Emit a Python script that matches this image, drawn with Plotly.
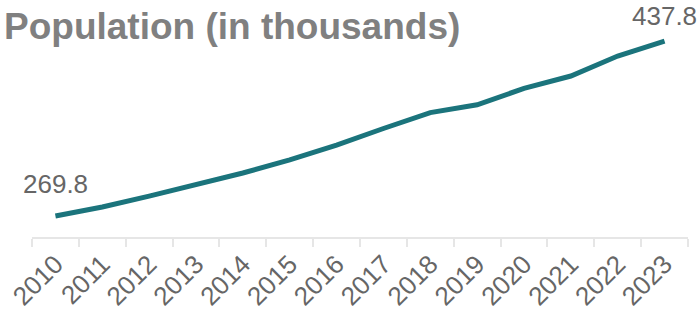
import plotly.graph_objects as go

years = ["2010", "2011", "2012", "2013", "2014", "2015", "2016",
         "2017", "2018", "2019", "2020", "2021", "2022", "2023"]
population = [269.8, 278.4, 288.9, 299.5, 311.1, 323.7, 337.9,
              353.8, 369.1, 376.6, 392.3, 404.2, 423.4, 437.8]

line_color = "#1b747c"
text_color = "#666666"

fig = go.Figure()
fig.add_trace(go.Scatter(x=years, y=population, mode="lines",
                         line=dict(color=line_color, width=5),
                         hoverinfo="x+y", showlegend=False))

# end-point labels (x given as category index)
last = len(years) - 1
for i, shift in ((0, 15), (last, 8)):
    fig.add_annotation(x=i, y=population[i], text=f"{population[i]:.1f}",
                       showarrow=False, xanchor="center", yanchor="bottom",
                       yshift=shift, font=dict(size=26, color=text_color))

fig.update_layout(
    width=699, height=320,
    margin=dict(l=32, r=11, t=30, b=83, autoexpand=False),
    paper_bgcolor="white", plot_bgcolor="white",
    font=dict(family="Liberation Sans, Arial, sans-serif", color=text_color),
    title=dict(text="<b>Population (in thousands)</b>",
               x=0, xanchor="left", xref="container",
               y=1, yanchor="top", yref="container",
               pad=dict(l=4, t=13),
               font=dict(size=37, color="#808080")),
)
fig.update_xaxes(type="category", range=[-0.5, last + 0.5], automargin=False,
                 showgrid=False, showline=True,
                 linecolor="#e6e6e6", linewidth=1.5,
                 ticks="outside", tickson="boundaries", ticklen=8,
                 tickwidth=1.5, tickcolor="#e6e6e6",
                 tickangle=-45, tickfont=dict(size=26, color=text_color))
fig.update_yaxes(range=[249.6, 448.4], visible=False, showgrid=False,
                 zeroline=False, automargin=False)

# drop the default page margin so the figure sits at the window's corner
fig.write_html("out.html", config={"displayModeBar": False},
               post_script="document.body.style.margin='0';")
